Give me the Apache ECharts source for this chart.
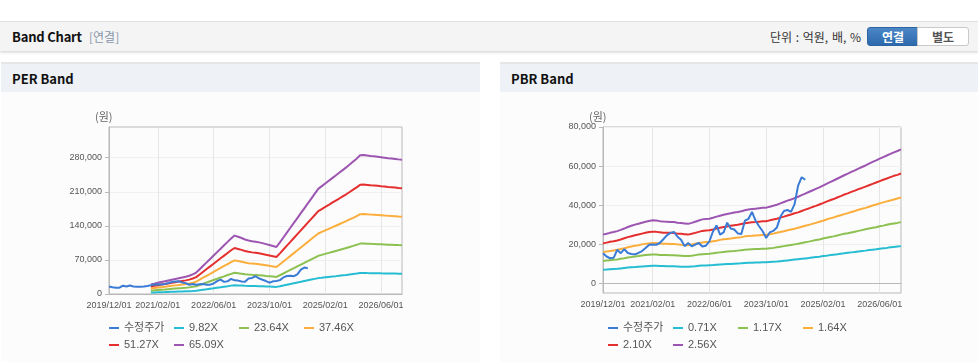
<!DOCTYPE html>
<html><head><meta charset="utf-8">
<script src="https://cdn.jsdelivr.net/npm/echarts@6.0.0/dist/echarts.min.js"></script>
<style>
html,body{margin:0;padding:0;background:#fff;width:978px;height:362px;overflow:hidden;font-family:'Noto Sans CJK KR','Liberation Sans',sans-serif;}
.topbar{position:absolute;left:0;top:21px;width:978px;height:29px;background:#f4f4f4;border-top:1px solid #e0e0e0;box-shadow:0 2px 2px rgba(0,0,0,0.13);}
.ttl{position:absolute;left:12px;top:5px;font-size:13px;font-weight:bold;color:#111;letter-spacing:-0.2px;}
.sub{position:absolute;left:89px;top:6px;font-size:12px;color:#8796ab;}
.unit{position:absolute;left:770px;top:6px;font-size:12px;color:#333;word-spacing:1px;}
.btn{position:absolute;top:5px;height:17px;line-height:17px;width:50px;text-align:center;font-size:12px;font-weight:bold;border:1px solid #c9c9c9;background:#fff;color:#555;}
.btn.on{left:867px;background:linear-gradient(#4b86c6,#2d6aad);color:#fff;border-color:#2d64a3;border-radius:3px 0 0 3px;}
.btn.off{left:917px;border-radius:0 3px 3px 0;}
.panel{position:absolute;top:62px;height:300px;background:#fcfcfc;border-top:2px solid #e6e6e6;}
.ptitle{position:absolute;left:0;top:0;right:0;height:28px;background:#eef1f6;}
.ptitle span{position:absolute;left:11px;top:5px;font-size:13px;font-weight:bold;color:#111;}
.chart{position:absolute;top:92px;height:270px;}
</style></head>
<body>
<div class="topbar">
  <span class="ttl">Band Chart</span><span class="sub">[연결]</span>
  <span class="unit">단위 : 억원, 배, %</span>
  <span class="btn on">연결</span><span class="btn off">별도</span>
</div>
<div class="panel" style="left:1px;width:479px;"><div class="ptitle"><span>PER Band</span></div></div>
<div class="panel" style="left:500px;width:478px;"><div class="ptitle"><span>PBR Band</span></div></div>
<div id="per" class="chart" style="left:0;width:480px;"></div>
<div id="pbr" class="chart" style="left:500px;width:478px;"></div>
<script>
// ---------- shared categories (monthly) ----------
const categories = [
'2019/12/01',
'2020/01/01','2020/02/01','2020/03/01','2020/04/01','2020/05/01','2020/06/01','2020/07/01','2020/08/01','2020/09/01','2020/10/01','2020/11/01','2020/12/01',
'2021/01/01','2021/02/01','2021/03/01','2021/04/01','2021/05/01','2021/06/01','2021/07/01','2021/08/01','2021/09/01','2021/10/01','2021/11/01','2021/12/01',
'2022/01/01','2022/02/01','2022/03/01','2022/04/01','2022/05/01','2022/06/01','2022/07/01','2022/08/01','2022/09/01','2022/10/01','2022/11/01','2022/12/01',
'2023/01/01','2023/02/01','2023/03/01','2023/04/01','2023/05/01','2023/06/01','2023/07/01','2023/08/01','2023/09/01','2023/10/01','2023/11/01','2023/12/01',
'2024/01/01','2024/02/01','2024/03/01','2024/04/01','2024/05/01','2024/06/01','2024/07/01','2024/08/01','2024/09/01','2024/10/01','2024/11/01','2024/12/01',
'2025/01/01','2025/02/01','2025/03/01','2025/04/01','2025/05/01','2025/06/01','2025/07/01','2025/08/01','2025/09/01','2025/10/01','2025/11/01','2025/12/01',
'2026/01/01','2026/02/01','2026/03/01','2026/04/01','2026/05/01','2026/06/01','2026/07/01','2026/08/01','2026/09/01','2026/10/01','2026/11/01','2026/12/01'
];
const xTickLabels = ['2019/12/01','2021/02/01','2022/06/01','2023/10/01','2025/02/01','2026/06/01'];

// 수정주가 (adjusted price), 2019/12 .. 2024/09
const price = [15400,13700,12800,13000,17100,15400,17500,15500,15000,14800,
15500,16500,18000,19700,19800,19700,20600,22500,24500,25800,
26300,23800,22300,19000,20600,18900,19800,20600,18800,19200,
21500,26500,29600,24900,26000,31000,28000,27500,25500,25200,
32000,33000,36500,32000,29200,26600,23200,26000,26800,28500,
34000,37000,37500,36500,40500,50000,54300,53000];

// ---------- PER band (starts 2020/12) ----------
const perNames = ['수정주가','9.82X','23.64X','37.46X','51.27X','65.09X'];
const per982 = [null,null,null,null,null,null,null,null,null,null,null,null,
3000,3200,3500,3700,3900,4200,4400,4600,4900,5100,5400,5700,6100,6600,7700,8800,9800,10900,
11900,13000,14000,15100,16100,17200,18100,17700,17400,16900,16600,16400,16200,16000,15800,15500,15200,14900,14600,
16000,17500,19000,20500,22000,23500,25000,26600,28100,29600,31100,32600,33400,34300,35100,35900,36700,37600,38400,39200,
40100,41000,41900,43000,43100,42900,42800,42700,42600,42400,42300,42100,42000,41900,41700,41600];
const per2364 = [null,null,null,null,null,null,null,null,null,null,null,null,
7200,7700,8300,8900,9400,10000,10600,11200,11800,12300,12900,13600,14700,16000,18500,21100,23600,26200,
28700,31200,33800,36300,38900,41400,43600,42700,41800,40700,40000,39400,39000,38500,38000,37200,36500,35800,35000,
38500,42100,45800,49400,53000,56700,60300,63900,67600,71200,74800,78500,80400,82400,84400,86400,88400,90400,92400,94400,
96600,98800,101000,103500,103700,103300,103000,102800,102400,102100,101700,101300,101200,100800,100400,100200];
const per3746 = [null,null,null,null,null,null,null,null,null,null,null,null,
11400,12300,13200,14100,15000,15900,16800,17700,18600,19600,20500,21600,23200,25300,29400,33400,37400,41400,
45500,49500,53500,57600,61600,65600,69100,67600,66200,64500,63300,62400,61900,61000,60100,59000,57800,56700,55500,
61000,66800,72500,78300,84000,89800,95500,101300,107000,112800,118600,124300,127500,130600,133800,137000,140100,143300,146500,149600,
153100,156500,160000,164000,164300,163700,163200,162900,162300,161700,161100,160600,160300,159700,159100,158700];
const per5127 = [null,null,null,null,null,null,null,null,null,null,null,null,
15600,16800,18000,19300,20500,21700,23000,24300,25500,26800,28000,29500,31800,34700,40200,45700,51200,56700,
62200,67700,73300,78800,84300,89800,94500,92600,90600,88200,86600,85500,84700,83500,82300,80700,79200,77600,76000,
83500,91400,99300,107100,115000,122900,130800,138600,146500,154400,162300,170100,174500,178800,183100,187500,191800,196100,200500,204800,
209500,214300,219000,224500,224900,224100,223300,222900,222100,221300,220600,219800,219400,218600,217800,217200];
const per6509 = [null,null,null,null,null,null,null,null,null,null,null,null,
19800,21300,22900,24500,26000,27600,29200,30800,32400,34000,35600,37500,40400,44000,51000,58000,65000,72000,
79000,86000,93000,100000,107000,114000,120000,117500,115000,112000,110000,108500,107500,106000,104500,102500,100500,98500,96500,
106000,116000,126000,136000,146000,156000,166000,176000,186000,196000,206000,216000,221500,227000,232500,238000,243500,249000,254500,260000,
266000,272000,278000,285000,285500,284500,283500,283000,282000,281000,280000,279000,278500,277500,276500,275800];
const perYTicks = [0,70000,140000,210000,280000];

// ---------- PBR band ----------
const pbrNames = ['수정주가','0.71X','1.17X','1.64X','2.10X','2.56X'];
const pbr071 = [6900,7000,7200,7300,7400,7600,7800,8000,8200,8300,8500,8600,8700,8800,8900,8900,8800,8800,8700,8700,
8700,8600,8500,8500,8400,8600,8700,8900,9100,9100,9200,9300,9500,9600,9700,9800,9900,10000,10100,10200,
10400,10500,10500,10600,10600,10700,10700,10900,11000,11100,11300,11500,11700,11900,12100,12300,12500,12700,12900,13200,
13400,13600,13900,14100,14400,14600,14800,15100,15300,15600,15800,16000,16300,16500,16700,17000,17200,17400,17700,17900,
18100,18400,18600,18800,19000];
const pbr117 = [11400,11600,11800,12000,12200,12500,12800,13200,13400,13700,13900,14200,14400,14600,14700,14700,14500,14400,14400,14300,
14300,14200,14100,14000,13900,14100,14400,14700,14900,15000,15100,15300,15600,15800,16000,16200,16400,16500,16700,16900,
17100,17300,17400,17500,17500,17600,17700,17900,18100,18400,18700,19000,19300,19600,19900,20200,20600,21000,21300,21700,
22100,22400,22900,23300,23700,24000,24400,24900,25300,25600,26000,26400,26800,27200,27600,28000,28400,28700,29200,29500,
29900,30300,30600,30900,31300];
const pbr164 = [16000,16200,16500,16800,17100,17500,17900,18400,18800,19200,19500,19900,20200,20400,20600,20600,20400,20200,20200,20100,
20100,19900,19700,19600,19500,19800,20200,20600,20900,21100,21100,21500,21800,22200,22500,22700,22900,23200,23400,23600,
24000,24200,24300,24500,24600,24700,24800,25100,25400,25800,26200,26600,27100,27500,27900,28400,28900,29400,29900,30400,
30900,31500,32000,32600,33200,33700,34300,34800,35400,35900,36500,37000,37600,38100,38600,39200,39800,40300,40900,41400,
41900,42400,42900,43400,43900];
const pbr210 = [20400,20800,21200,21500,21900,22400,23000,23600,24100,24600,25000,25400,25800,26200,26400,26300,26100,25900,25800,25800,
25700,25400,25300,25100,24900,25300,25800,26300,26800,27000,27100,27500,28000,28400,28800,29100,29400,29700,29900,30300,
30700,31000,31200,31300,31500,31700,31700,32200,32600,33000,33600,34100,34700,35200,35800,36300,37000,37700,38300,39000,
39600,40300,41000,41800,42500,43100,43900,44600,45400,46000,46800,47400,48200,48800,49500,50200,50900,51600,52300,53000,
53600,54300,55000,55500,56200];
const pbr256 = [24900,25300,25800,26200,26700,27300,28000,28800,29400,30000,30500,31000,31500,31900,32200,32100,31800,31600,31500,31400,
31300,31000,30800,30600,30400,30900,31500,32100,32700,32900,33000,33500,34100,34600,35100,35500,35800,36200,36500,36900,
37400,37800,38000,38200,38400,38600,38700,39200,39700,40200,40900,41600,42300,42900,43600,44300,45100,45900,46700,47500,
48300,49100,50000,50900,51800,52600,53500,54400,55300,56100,57000,57800,58700,59500,60300,61200,62100,62900,63800,64600,
65400,66200,67000,67700,68500];
const pbrYTicks = [0,20000,40000,60000,80000];

const colors = ['#3a7bd5','#26bdd3','#8cc152','#fbae3c','#e52f2f','#9c55b0'];
const numFont = "'Liberation Sans', Arial, 'Noto Sans CJK KR', sans-serif";

function buildOption(names, seriesData, yCfg, gridCfg, legendLeft) {
  const series = seriesData.map((d, k) => ({
    name: names[k], type: 'line', data: d, showSymbol: false, symbol: 'none',
    lineStyle: { width: 2, color: colors[k] }, itemStyle: { color: colors[k] },
    z: k === 0 ? 10 : 2 + k, connectNulls: false, animation: false
  }));
  const labelIdx = (i, v) => xTickLabels.indexOf(v) >= 0;
  return {
    animation: false,
    textStyle: { fontFamily: numFont },
    grid: Object.assign({ show: true, borderColor: '#b9b9b9', borderWidth: 1, backgroundColor: 'transparent' }, gridCfg),
    graphic: [{ type: 'text', left: gridCfg.left - 14, top: 19,
      style: { text: '(원)', fill: '#666', font: "11px 'Noto Sans CJK KR', sans-serif" } }],
    legend: {
      left: legendLeft, top: 225, width: 270, itemGap: 5, itemWidth: 10, itemHeight: 2,
      icon: 'rect', data: names,
      textStyle: { color: '#555', fontSize: 11, width: 45, lineHeight: 12, fontFamily: numFont }
    },
    xAxis: {
      type: 'category', data: categories, boundaryGap: false,
      axisLine: { lineStyle: { color: '#b9b9b9' } },
      axisTick: { show: false },
      axisLabel: { interval: labelIdx, color: '#555', fontSize: 9, margin: 7, hideOverlap: false },
      splitLine: { show: true, interval: labelIdx, lineStyle: { color: '#e6e6e6' } }
    },
    yAxis: Object.assign({
      type: 'value',
      axisLine: { show: true, lineStyle: { color: '#b9b9b9' } },
      axisTick: { show: true, length: 4, lineStyle: { color: '#b9b9b9' }, customValues: yCfg.ticks },
      axisLabel: { color: '#555', fontSize: 9, margin: 7, customValues: yCfg.ticks,
        formatter: v => v.toLocaleString('en-US') },
      splitLine: { show: true, lineStyle: { color: '#f0f0f0' } }
    }, yCfg.axis),
    series: series
  };
}

const perChart = echarts.init(document.getElementById('per'), null, { renderer: 'canvas' });
perChart.setOption(buildOption(perNames, [price, per982, per2364, per3746, per5127, per6509],
  { ticks: perYTicks, axis: { min: 0, max: 343000, interval: 70000 } },
  { left: 109, top: 35, width: 293, height: 167 }, 104));

const pbrChart = echarts.init(document.getElementById('pbr'), null, { renderer: 'canvas' });
pbrChart.setOption(buildOption(pbrNames, [price, pbr071, pbr117, pbr164, pbr210, pbr256],
  { ticks: pbrYTicks, axis: { min: -5000, max: 80000 } },
  { left: 103, top: 35, width: 298, height: 166 }, 103));
</script>
</body></html>
